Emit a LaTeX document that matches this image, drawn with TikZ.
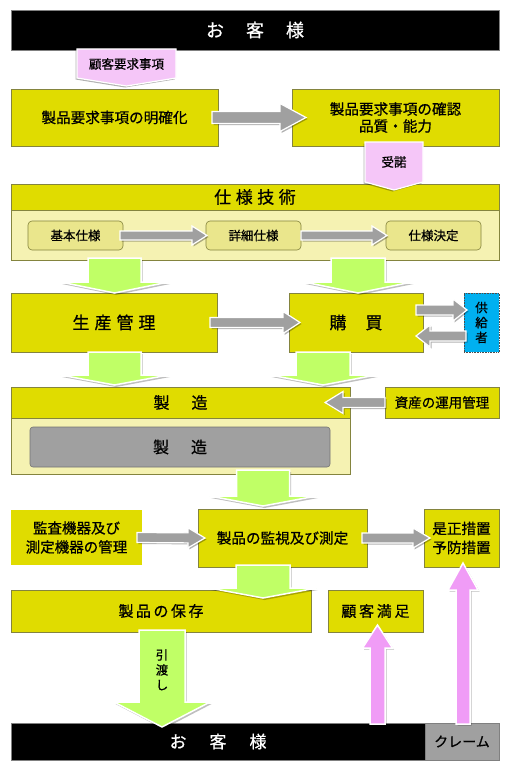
\documentclass[tikz,border=0pt]{standalone}
\usepackage{fontspec}
\setmainfont{Noto Sans CJK JP}[FakeBold=0.7]
\usetikzlibrary{calc,shadows}
\definecolor{ybox}{HTML}{E0DC00}
\definecolor{yedge}{HTML}{84843E}
\definecolor{ylight}{HTML}{F5F2B2}
\definecolor{ysub}{HTML}{EAE68C}
\definecolor{garrow}{HTML}{C0FF66}
\definecolor{grayarrow}{HTML}{A0A0A0}
\definecolor{pinkbox}{HTML}{F5C6F8}
\definecolor{pinkarrow}{HTML}{F09CF6}
\definecolor{bluebox}{HTML}{00B0F0}
\definecolor{innergray}{HTML}{A0A0A0}
\newcommand\fsz[2]{\fontsize{#1}{#2}\selectfont}
\newcommand\barrow[6]{%
  \coordinate (bah) at ($(#3)!#6pt!(#2)$);
  \path[#1] ($(#2)!#4pt!90:(#3)$) -- ($(bah)!#4pt!90:(#3)$) -- ($(bah)!#5pt!90:(#3)$) -- (#3)
     -- ($(bah)!#5pt!-90:(#3)$) -- ($(bah)!#4pt!-90:(#3)$) -- ($(#2)!#4pt!-90:(#3)$) -- cycle;}
\tikzset{
  box/.style={draw=yedge, fill=ybox, line width=0.8pt, anchor=north west, inner sep=0pt, outer sep=0pt, align=center, text=black},
  lbox/.style={draw=yedge, fill=ylight, line width=0.8pt, anchor=north west, inner sep=0pt, outer sep=0pt},
  sbox/.style={draw=yedge, fill=ysub, line width=0.6pt, rounded corners=4pt, anchor=north west, inner sep=0pt, outer sep=0pt, font=\fsz{12.5}{14}},
  bar/.style={fill=black, draw=gray, line width=0.6pt, anchor=north west, inner sep=0pt, outer sep=0pt, text=white},
  garr/.style={fill=grayarrow, draw=white, line width=1.2pt, line join=miter, drop shadow={shadow xshift=1.5pt, shadow yshift=-1.5pt, opacity=0.3, fill=black}},
  grarr/.style={fill=garrow, draw=white, line width=1.5pt, line join=miter, drop shadow={shadow xshift=1.5pt, shadow yshift=-2pt, opacity=0.25, fill=black}},
  parr/.style={fill=pinkarrow, draw=white, line width=1.5pt, line join=miter, drop shadow={shadow xshift=1.5pt, shadow yshift=-1.5pt, opacity=0.25, fill=black}},
  callout/.style={fill=pinkbox, draw=white, line width=1.2pt, line join=miter, drop shadow={shadow xshift=-1.5pt, shadow yshift=-1.5pt, opacity=0.3, fill=black}},
}
\begin{document}
\begin{tikzpicture}[x=1pt,y=-1pt]
\useasboundingbox (0,0) rectangle (510,768);
\fill[white] (0,0) rectangle (510,768);

% top bar
\node[bar, minimum width=488, minimum height=40, font=\fsz{18}{20}] (top) at (11,10) {お\hspace{22pt}客\hspace{22pt}様};

% row 1
\node[box, minimum width=207, minimum height=57, font=\fsz{14.6}{17}] (clar) at (11,89) {製品要求事項の明確化};
\node[box, minimum width=207, minimum height=57, font=\fsz{14.6}{17}] (conf) at (292,89) {製品要求事項の確認\\品質・能力};

% spec
\node[box, minimum width=488, minimum height=26, font=\fsz{17}{20}] (spechead) at (11,184) {仕\kern4.5pt 様\kern4.5pt 技\kern4.5pt 術};
\node[lbox, minimum width=488, minimum height=50] (specbody) at (11,210) {};
\node[sbox, minimum width=95, minimum height=29] (kihon) at (28,221) {基本仕様};
\node[sbox, minimum width=95, minimum height=29] (shosai) at (206,221) {詳細仕様};
\node[sbox, minimum width=95, minimum height=29] (kettei) at (386,221) {仕様決定};

% row 3
\node[box, minimum width=206, minimum height=59, font=\fsz{17}{20}] (seisan) at (11,293) {生\kern5pt 産\kern5pt 管\kern5pt 理};
\node[box, minimum width=134, minimum height=59, font=\fsz{17}{20}] (kobai) at (289,293) {購\kern19pt 買};
\node[draw=black!70, densely dotted, fill=bluebox, line width=0.6pt, anchor=north west, inner sep=0pt, outer sep=0pt, minimum width=35, minimum height=59, align=center, font=\fsz{12.5}{15}] (kyokyu) at (464,293) {供\\給\\者};

% seizo
\node[box, minimum width=339, minimum height=31, font=\fsz{16}{18}] (seizohead) at (11,387) {製\kern22pt 造};
\node[lbox, minimum width=339, minimum height=56] (seizobody) at (11,418) {};
\node[draw=black!55, fill=innergray, line width=0.6pt, rounded corners=3pt, anchor=north west, inner sep=0pt, outer sep=0pt, minimum width=300, minimum height=40, font=\fsz{16}{18}] (seizoinner) at (30,427) {製\kern22pt 造};
\node[box, minimum width=114, minimum height=31, font=\fsz{13.5}{15}] (shisan) at (385,387) {資産の運用管理};

% row 5
\node[box, draw=none, minimum width=131, minimum height=55, font=\fsz{14.5}{19}] (kansa) at (11,510) {監査機器及び\\測定機器の管理};
\node[box, minimum width=169, minimum height=58, font=\fsz{14.6}{17}] (kanshi) at (198,509) {製品の監視及び測定};
\node[box, minimum width=75, minimum height=58, font=\fsz{14.6}{19}] (zesei) at (424,509) {是正措置\\予防措置};

% row 6
\node[box, minimum width=300, minimum height=42, font=\fsz{15}{17}] (hozon) at (11,590) {製\kern2.5pt 品\kern2.5pt の\kern2.5pt 保\kern2.5pt 存};
\node[box, minimum width=95, minimum height=42, font=\fsz{15}{17}] (manzoku) at (328,590) {顧\kern2.7pt 客\kern2.7pt 満\kern2.7pt 足};

% bottom
\node[bar, minimum width=414, minimum height=37, font=\fsz{17}{20}] (bottom) at (11,723) {お\hspace{23pt}客\hspace{23pt}様};
\node[fill=innergray, draw=gray, line width=0.6pt, anchor=north west, inner sep=0pt, outer sep=0pt, minimum width=74, minimum height=37, font=\fsz{14}{16}] (claim) at (425,723) {クレーム};

% gray arrows
\coordinate (a1s) at ($(clar.east)+(-6,0)$);
\coordinate (a1e) at ($(conf.west)+(14,0)$);
\barrow{garr}{a1s}{a1e}{6}{14}{26}
\coordinate (a2s) at ($(kihon.east)+(-3,0)$);
\coordinate (a2e) at ($(shosai.west)+(1,0)$);
\barrow{garr}{a2s}{a2e}{4.5}{9.5}{15}
\coordinate (a3s) at ($(shosai.east)+(0,0)$);
\coordinate (a3e) at ($(kettei.west)+(1,0)$);
\barrow{garr}{a3s}{a3e}{4.5}{9.5}{15}
\coordinate (a4s) at ($(seisan.east)+(-7,0)$);
\coordinate (a4e) at ($(kobai.west)+(11,0)$);
\barrow{garr}{a4s}{a4e}{5}{11}{17}
\coordinate (a5s) at ($(kobai.east)+(-7,-12.5)$);
\coordinate (a5e) at ($(kyokyu.west)+(3,-12.5)$);
\barrow{garr}{a5s}{a5e}{5}{11}{14}
\coordinate (a6s) at ($(kyokyu.west)+(2,13.5)$);
\coordinate (a6e) at ($(kobai.east)+(-7,13.5)$);
\barrow{garr}{a6s}{a6e}{5}{11}{14}
\coordinate (a7s) at ($(shisan.west)+(0,0)$);
\coordinate (a7e) at ($(seizohead.east)+(-25,0)$);
\barrow{garr}{a7s}{a7e}{5}{11}{18}
\coordinate (a8s) at ($(kansa.east)+(-5,0)$);
\coordinate (a8e) at ($(kanshi.west)+(7,0)$);
\barrow{garr}{a8s}{a8e}{5}{10}{17}
\coordinate (a9s) at ($(kanshi.east)+(-5,0)$);
\coordinate (a9e) at ($(zesei.west)+(6,0)$);
\barrow{garr}{a9s}{a9e}{5}{10}{17}

% green arrows
\coordinate (g1s) at ($(specbody.south -| seisan.north)+(0.5,-2)$);
\coordinate (g1e) at ($(seisan.north)+(0.5,0)$);
\barrow{grarr}{g1s}{g1e}{26.5}{54}{11}
\coordinate (g2s) at ($(specbody.south -| kobai.north)+(2,-2)$);
\coordinate (g2e) at ($(kobai.north)+(2,0)$);
\barrow{grarr}{g2s}{g2e}{27}{54}{11}
\coordinate (g3s) at ($(seisan.south)+(0.5,0)$);
\coordinate (g3e) at ($(seizohead.north -| seisan.south)+(0.5,-2)$);
\barrow{grarr}{g3s}{g3e}{26.5}{54}{10}
\coordinate (g4s) at ($(kobai.south)+(-33,0)$);
\coordinate (g4e) at ($(seizohead.north -| kobai.south)+(-33,-2)$);
\barrow{grarr}{g4s}{g4e}{27}{53}{10}
\coordinate (g5s) at ($(seizobody.south -| kanshi.north)+(-19.5,-4)$);
\coordinate (g5e) at ($(kanshi.north)+(-19.5,-3)$);
\barrow{grarr}{g5s}{g5e}{26.5}{53.5}{10}
\coordinate (g6s) at ($(kanshi.south)+(-19.5,-2)$);
\coordinate (g6e) at ($(hozon.north -| kanshi.south)+(-19.5,8)$);
\barrow{grarr}{g6s}{g6e}{27}{53.5}{10}
\coordinate (g7s) at ($(hozon.south)+(1,-2)$);
\coordinate (g7e) at ($(bottom.north -| hozon.south)+(1,4)$);
\barrow{grarr}{g7s}{g7e}{23}{48}{25}
\node[inner sep=0pt, align=center, font=\fsz{12.5}{15}] (hikiwatashi) at ($(g7s)!0.41!(g7e)$) {引\\渡\\し};

% pink arrows
\coordinate (p1s) at ($(bottom.north -| manzoku.south)+(2,1)$);
\coordinate (p1e) at ($(manzoku.south)+(2,-7)$);
\barrow{parr}{p1s}{p1e}{7.5}{15}{23}
\coordinate (p2s) at ($(claim.north -| zesei.south)+(1.5,1)$);
\coordinate (p2e) at ($(zesei.south)+(1.5,-4)$);
\barrow{parr}{p2s}{p2e}{7}{15}{27}

% callouts
\path[callout] (77,49) -- (176,49) -- (176,78) -- (126.5,86) -- (77,78) -- cycle;
\node[inner sep=0pt, font=\fsz{12.5}{14}] (req) at (126.5,64) {顧客要求事項};
\path[callout] (365,142) -- (423,142) -- (423,182) -- (394,190) -- (365,182) -- cycle;
\node[inner sep=0pt, font=\fsz{12.5}{14}] (accept) at (394,162) {受諾};
\end{tikzpicture}
\end{document}
